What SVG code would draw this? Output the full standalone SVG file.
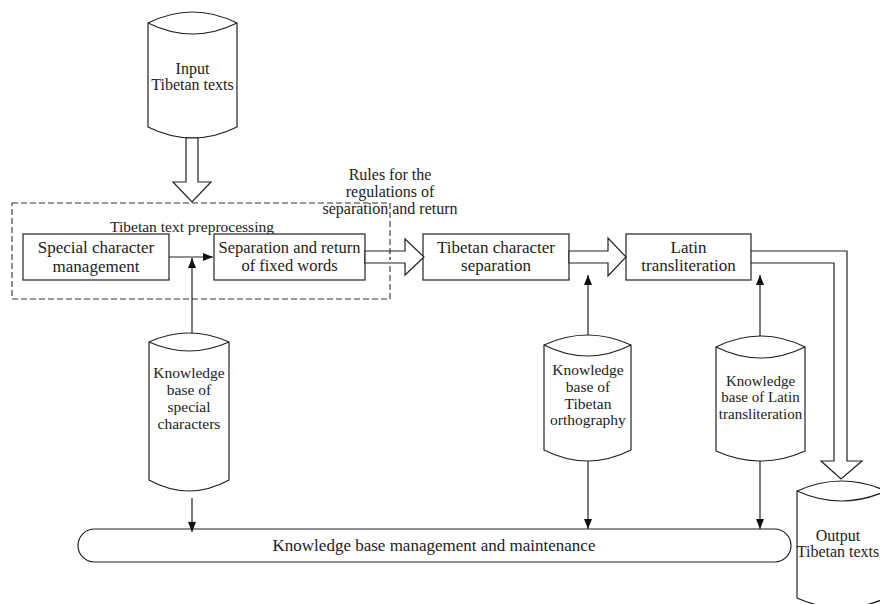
<svg xmlns="http://www.w3.org/2000/svg" width="880" height="604" viewBox="0 0 880 604">
<style>
  .s{fill:#fff;stroke:#222;stroke-width:1.2}
  .n{fill:none;stroke:#222;stroke-width:1.2}
  .t{font-family:"Liberation Serif","Times New Roman",serif;fill:#222;text-anchor:middle}
  .c{font-size:15.5px}
  .b{font-size:17px}
  .dash{fill:none;stroke:#333;stroke-width:1.1;stroke-dasharray:6 3}
</style>
<defs>
  <marker id="ah" markerUnits="userSpaceOnUse" markerWidth="11" markerHeight="9" refX="10" refY="4" orient="auto">
    <path d="M0,0 L10,4 L0,8 z" fill="#111"/>
  </marker>
</defs>
<rect width="880" height="604" fill="#fff"/>

<g id="input">
  <path class="s" d="M148,23 Q192.5,1 237,23 L237,127 Q192.5,149 148,127 Z"/>
  <path class="n" d="M148,23 Q192.5,45 237,23"/>
  <text class="t" style="font-size:16px" x="192.5" y="74">Input</text>
  <text class="t" style="font-size:16px" x="192.5" y="90">Tibetan texts</text>
</g>

<g id="preprocessing">
  <rect class="dash" x="12" y="203" width="378" height="96"/>
  <text class="t" style="font-size:15.5px" x="192" y="232">Tibetan text preprocessing</text>
</g>

<g id="rules">
  <text class="t" style="font-size:16px" x="390" y="180">Rules for the</text>
  <text class="t" style="font-size:16px" x="390" y="197">regulations of</text>
  <text class="t" style="font-size:16px" x="390" y="214">separation and return</text>
</g>

<g id="special-mgmt">
  <rect class="s" x="23" y="234" width="146" height="46"/>
  <text class="t b" x="96" y="253">Special character</text>
  <text class="t b" x="96" y="272">management</text>
</g>

<g id="fixed-words">
  <rect class="s" x="214" y="234" width="151" height="46"/>
  <text class="t" style="font-size:16.5px" x="289.5" y="253">Separation and return</text>
  <text class="t" style="font-size:16.5px" x="289.5" y="271">of fixed words</text>
</g>

<g id="char-sep">
  <rect class="s" x="423" y="234" width="146" height="46"/>
  <text class="t b" x="496" y="253">Tibetan character</text>
  <text class="t b" x="496" y="271">separation</text>
</g>

<g id="latin">
  <rect class="s" x="626" y="234" width="125" height="46"/>
  <text class="t b" x="688.5" y="253">Latin</text>
  <text class="t b" x="688.5" y="271">transliteration</text>
</g>

<g id="kb-special">
  <path class="s" d="M149,342 Q189,324 229,342 L229,480 Q189,502 149,480 Z"/>
  <path class="n" d="M149,342 Q189,360 229,342"/>
  <text class="t c" x="189" y="378">Knowledge</text>
  <text class="t c" x="189" y="395">base of</text>
  <text class="t c" x="189" y="412">special</text>
  <text class="t c" x="189" y="429">characters</text>
</g>

<g id="kb-ortho">
  <path class="s" d="M544,345 Q587.5,325 631,345 L631,450 Q587.5,472 544,450 Z"/>
  <path class="n" d="M544,345 Q587.5,367 631,345"/>
  <text class="t c" x="588" y="375">Knowledge</text>
  <text class="t c" x="588" y="392">base of</text>
  <text class="t c" x="588" y="409">Tibetan</text>
  <text class="t c" x="588" y="425">orthography</text>
</g>

<g id="kb-latin">
  <path class="s" d="M716,347 Q760.5,325 805,347 L805,451 Q760.5,471 716,451 Z"/>
  <path class="n" d="M716,347 Q760.5,369 805,347"/>
  <text class="t" style="font-size:15px" x="760.5" y="386">Knowledge</text>
  <text class="t" style="font-size:15px" x="760.5" y="402">base of Latin</text>
  <text class="t" style="font-size:15px" x="760.5" y="419">transliteration</text>
</g>

<g id="output">
  <path class="s" d="M797,491 Q841.5,471 886,491 L886,598 Q841.5,618 797,598 Z"/>
  <path class="n" d="M797,491 Q841.5,511 886,491"/>
  <text class="t" style="font-size:16px" x="838" y="541">Output</text>
  <text class="t" style="font-size:16px" x="838" y="557">Tibetan texts</text>
</g>

<g id="kb-management">
  <rect class="s" x="78" y="529" width="713" height="33" rx="16.5" ry="16.5"/>
  <text class="t" style="font-size:17px" x="434" y="551">Knowledge base management and maintenance</text>
</g>

<g id="connectors">
  <path class="s" d="M186,138 L198,138 L198,182 L211,182 L192,202 L173,182 L186,182 Z"/>
  <path class="s" d="M365,251 L405,251 L405,239 L424,257 L405,275 L405,263 L365,263 Z"/>
  <path class="s" d="M569,251 L608,251 L608,238 L626,257 L608,276 L608,263 L569,263 Z"/>
  <path class="n" d="M751,251 L847,251 L847,461 L862,461 L841,479 L821,461 L834,461 L834,263 L751,263"/>
  <line class="n" x1="390" y1="251" x2="390" y2="263" stroke-dasharray="3 3"/>
  <line class="n" x1="169" y1="257" x2="213" y2="257" marker-end="url(#ah)"/>
  <line class="n" x1="192" y1="333" x2="192" y2="258" marker-end="url(#ah)"/>
  <line class="n" x1="192" y1="498" x2="192" y2="532" marker-end="url(#ah)"/>
  <line class="n" x1="588" y1="335" x2="588" y2="275" marker-end="url(#ah)"/>
  <line class="n" x1="588" y1="461" x2="588" y2="529" marker-end="url(#ah)"/>
  <line class="n" x1="760" y1="336" x2="760" y2="275" marker-end="url(#ah)"/>
  <line class="n" x1="760" y1="461" x2="760" y2="529" marker-end="url(#ah)"/>
</g>
</svg>
